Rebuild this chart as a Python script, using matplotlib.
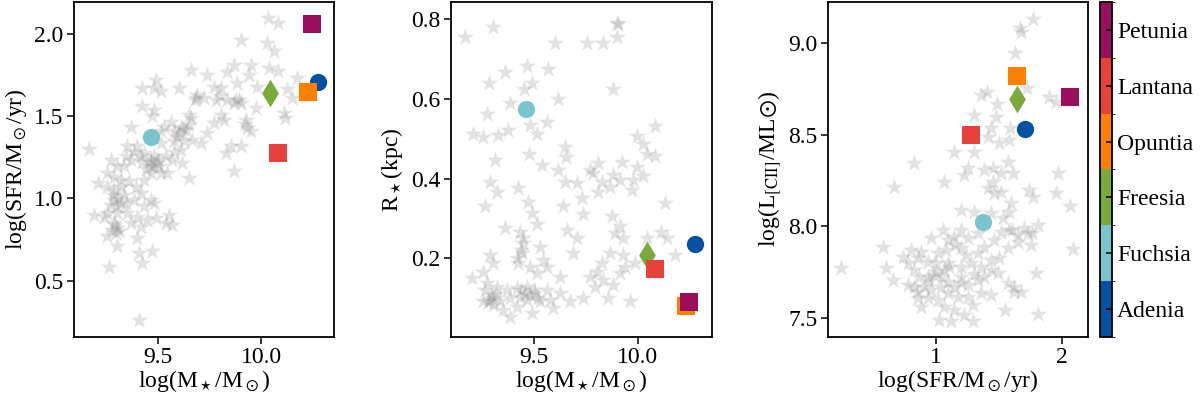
import matplotlib
matplotlib.use("Agg")
import matplotlib.pyplot as plt
import numpy as np
from matplotlib.colors import ListedColormap, BoundaryNorm
from matplotlib.cm import ScalarMappable

plt.rcParams['font.family'] = ['Liberation Serif', 'DejaVu Serif']
plt.rcParams['mathtext.fontset'] = 'stix'
plt.rcParams['font.size'] = 17

# highlighted galaxies (bottom to top of the colour bar)
names = ['Adenia', 'Fuchsia', 'Freesia', 'Opuntia', 'Lantana', 'Petunia']
colors = ['#0451a3', '#7ac5cd', '#7aab3a', '#ff8000', '#e8403a', '#990f5d']
markers = ['o', 'o', 'd', 's', 's', 's']
gal_mstar = [10.275, 9.465, 10.044, 10.230, 10.081, 10.248]
gal_sfr = [1.708, 1.374, 1.643, 1.647, 1.277, 2.063]
gal_rstar = [0.235, 0.574, 0.208, 0.080, 0.173, 0.091]
gal_lcii = [8.532, 8.022, 8.694, 8.821, 8.497, 8.708]

# background sample, panel 1: stellar mass vs SFR
bg1_mstar = [10.036, 10.083, 9.901, 10.031, 10.063, 10.039, 10.083, 10.176, 10.128, 10.152,
             10.112, 10.115, 9.979, 9.974, 9.659, 9.739, 9.837, 9.869, 9.950, 9.942,
             9.885, 9.804, 9.772, 9.691, 9.683, 9.723, 9.602, 9.489, 9.481, 9.424,
             9.516, 9.893, 9.901, 9.837, 9.804, 9.820, 9.772, 9.739, 9.707, 9.626,
             9.659, 9.650, 9.610, 9.578, 9.561, 9.529, 9.513, 9.481, 9.472, 9.424,
             9.367, 9.926, 9.934, 9.950, 9.853, 9.901, 9.828, 9.869, 9.650, 9.618,
             9.570, 9.537, 9.497, 9.464, 9.416, 9.383, 9.351, 9.400, 9.432, 9.513,
             9.165, 9.206, 9.254, 9.270, 9.303, 9.335, 9.286, 9.254, 9.319, 9.359,
             9.392, 9.432, 9.464, 9.513, 9.416, 9.464, 9.481, 9.432, 9.383, 9.335,
             9.286, 9.270, 9.254, 9.189, 9.238, 9.303, 9.351, 9.400, 9.448, 9.489,
             9.416, 9.367, 9.286, 9.278, 9.294, 9.254, 9.303, 9.400, 9.408, 9.424,
             9.472, 9.262, 9.553, 9.570, 9.537, 9.408, 9.286, 9.319, 9.343, 9.303,
             9.481, 9.505, 9.464, 9.367, 9.343, 9.545, 9.610, 9.578, 9.594, 9.634,
             9.650, 9.667, 9.578, 9.30, 9.29, 9.31, 9.30, 9.32, 9.28, 9.46,
             9.48, 9.50, 9.44, 9.42, 9.60, 9.62, 9.78, 9.80, 9.87, 9.88,
             9.92, 9.68]
bg1_sfr = [2.095, 2.069, 1.964, 1.947, 1.899, 1.791, 1.775, 1.731, 1.664, 1.609,
           1.518, 1.488, 1.680, 1.548, 1.781, 1.751, 1.771, 1.812, 1.812, 1.751,
           1.700, 1.670, 1.680, 1.629, 1.609, 1.609, 1.670, 1.721, 1.670, 1.670,
           1.650, 1.599, 1.579, 1.599, 1.508, 1.478, 1.457, 1.396, 1.336, 1.346,
           1.488, 1.508, 1.437, 1.407, 1.467, 1.437, 1.407, 1.538, 1.498, 1.559,
           1.437, 1.478, 1.427, 1.407, 1.316, 1.316, 1.275, 1.164, 1.123, 1.214,
           1.235, 1.255, 1.214, 1.194, 1.255, 1.285, 1.316, 1.316, 1.275, 1.336,
           1.299, 1.093, 1.154, 1.235, 1.194, 1.194, 1.133, 1.072, 1.113, 1.103,
           1.072, 1.113, 1.154, 1.154, 1.032, 0.992, 0.971, 0.951, 0.992, 1.022,
           0.992, 0.961, 0.910, 0.900, 0.890, 0.910, 0.910, 0.890, 0.870, 0.880,
           0.829, 0.850, 0.850, 0.809, 0.789, 0.769, 0.708, 0.759, 0.667, 0.607,
           0.678, 0.586, 0.900, 0.840, 0.850, 0.262, 1.052, 1.072, 0.971, 0.951,
           1.255, 1.194, 1.235, 1.235, 1.255, 1.154, 1.295, 1.346, 1.376, 1.417,
           1.447, 1.356, 1.285, 0.82, 0.84, 0.80, 1.00, 0.97, 1.02, 1.22,
           1.20, 1.24, 1.18, 1.22, 1.40, 1.42, 1.60, 1.62, 1.58, 1.60,
           1.45, 1.60]

# panel 2: stellar mass vs stellar radius
bg2_mstar = [9.170, 9.306, 9.899, 9.907, 9.899, 9.755, 9.835, 9.603, 9.466, 9.362,
             9.571, 9.287, 9.490, 9.454, 9.883, 9.619, 9.386, 9.274, 9.563, 9.482,
             9.210, 9.258, 9.330, 9.378, 9.514, 10.083, 9.995, 10.027, 10.043, 10.083,
             9.995, 10.024, 9.651, 9.655, 9.479, 9.314, 9.538, 9.619, 9.771, 9.811,
             9.787, 9.883, 9.915, 9.827, 9.867, 9.811, 9.923, 9.971, 9.979, 9.707,
             9.651, 9.290, 9.322, 9.426, 9.266, 9.474, 9.490, 9.643, 9.731, 9.739,
             9.514, 9.362, 9.434, 9.659, 9.707, 9.875, 9.915, 9.891, 9.931, 10.131,
             10.111, 10.143, 10.043, 10.179, 9.931, 9.867, 9.691, 9.827, 9.290, 9.306,
             9.450, 9.442, 9.530, 9.546, 9.514, 9.563, 9.482, 9.426, 9.258, 9.202,
             9.274, 9.322, 9.370, 9.418, 9.466, 9.506, 9.563, 9.627, 9.579, 9.290,
             9.258, 9.306, 9.338, 9.386, 9.434, 9.482, 9.418, 9.466, 9.386, 9.490,
             9.354, 9.595, 9.675, 9.739, 9.771, 9.803, 9.835, 9.795, 9.883, 9.859,
             9.915, 9.939, 9.963, 9.987, 9.627, 9.530, 9.266, 9.298, 9.30, 9.32,
             9.28, 9.44, 9.46, 9.42, 9.44, 9.45, 9.50, 9.52]
bg2_rstar = [0.756, 0.779, 0.791, 0.787, 0.754, 0.741, 0.739, 0.739, 0.682, 0.668,
             0.674, 0.639, 0.639, 0.624, 0.624, 0.600, 0.589, 0.562, 0.543, 0.534,
             0.513, 0.505, 0.509, 0.522, 0.513, 0.532, 0.507, 0.488, 0.463, 0.457,
             0.430, 0.407, 0.480, 0.455, 0.463, 0.447, 0.434, 0.422, 0.422, 0.438,
             0.413, 0.409, 0.396, 0.392, 0.380, 0.367, 0.442, 0.371, 0.396, 0.390,
             0.392, 0.392, 0.367, 0.376, 0.331, 0.342, 0.315, 0.331, 0.351, 0.311,
             0.286, 0.275, 0.267, 0.271, 0.250, 0.306, 0.280, 0.263, 0.250, 0.338,
             0.267, 0.250, 0.250, 0.209, 0.209, 0.213, 0.213, 0.188, 0.209, 0.188,
             0.238, 0.213, 0.229, 0.196, 0.163, 0.179, 0.179, 0.188, 0.167, 0.150,
             0.138, 0.129, 0.121, 0.125, 0.129, 0.112, 0.121, 0.154, 0.096, 0.096,
             0.092, 0.083, 0.092, 0.100, 0.104, 0.108, 0.079, 0.096, 0.054, 0.062,
             0.071, 0.075, 0.092, 0.100, 0.154, 0.167, 0.146, 0.129, 0.133, 0.100,
             0.163, 0.179, 0.092, 0.188, 0.112, 0.092, 0.121, 0.108, 0.100, 0.110,
             0.090, 0.120, 0.110, 0.200, 0.220, 0.250, 0.120, 0.100]

# panel 3: SFR vs [CII] luminosity
bg3_sfr = [1.768, 1.670, 1.675, 1.631, 1.720, 1.359, 1.406, 1.485, 1.900, 1.953,
           1.306, 1.478, 1.591, 1.438, 1.412, 1.504, 1.583, 1.148, 1.306, 0.831,
           1.570, 1.253, 1.385, 1.451, 1.517, 1.609, 1.227, 1.063, 0.673, 1.451,
           1.412, 1.464, 1.517, 1.741, 1.768, 1.966, 1.953, 2.066, 1.596, 1.583,
           1.201, 1.306, 1.438, 1.530, 1.702, 1.807, 1.760, 1.649, 1.649, 1.583,
           1.517, 1.464, 1.332, 1.253, 1.201, 1.148, 1.095, 0.963, 1.055, 0.580,
           0.805, 0.884, 0.937, 1.016, 1.082, 1.201, 1.240, 1.332, 1.385, 1.438,
           1.504, 1.570, 1.755, 1.728, 2.084, 0.251, 0.607, 0.660, 0.778, 0.831,
           0.871, 0.937, 0.989, 1.069, 1.108, 1.201, 1.280, 1.359, 1.438, 1.491,
           1.570, 1.623, 1.675, 1.794, 0.778, 0.831, 0.910, 0.963, 1.042, 1.095,
           1.148, 1.201, 1.253, 1.332, 1.385, 1.359, 1.253, 1.174, 1.095, 1.016,
           0.937, 0.858, 0.884, 1.069, 1.148, 1.293, 1.227, 1.029, 1.121, 1.293,
           1.438, 1.549, 1.807, 0.858, 0.739, 1.003, 1.00, 1.05, 0.95, 1.10,
           1.20, 1.30, 1.15, 1.60, 1.62, 0.85]
bg3_lcii = [9.131, 9.082, 9.064, 8.945, 8.754, 8.718, 8.736, 8.668, 8.709, 8.681,
            8.608, 8.599, 8.536, 8.536, 8.490, 8.454, 8.472, 8.408, 8.408, 8.348,
            8.353, 8.317, 8.308, 8.317, 8.290, 8.290, 8.281, 8.244, 8.213, 8.244,
            8.208, 8.180, 8.189, 8.199, 8.162, 8.290, 8.180, 8.111, 8.126, 8.080,
            8.089, 8.080, 8.071, 8.044, 7.989, 8.007, 7.962, 7.953, 7.916, 7.980,
            7.971, 7.925, 7.962, 7.934, 7.980, 7.943, 7.925, 7.934, 7.980, 7.885,
            7.871, 7.862, 7.807, 7.852, 7.871, 7.880, 7.843, 7.852, 7.889, 7.816,
            7.825, 7.880, 7.898, 7.962, 7.874, 7.770, 7.770, 7.707, 7.798, 7.761,
            7.725, 7.725, 7.734, 7.761, 7.780, 7.780, 7.798, 7.780, 7.761, 7.743,
            7.689, 7.670, 7.643, 7.743, 7.679, 7.670, 7.670, 7.652, 7.670, 7.698,
            7.670, 7.689, 7.679, 7.707, 7.725, 7.634, 7.616, 7.616, 7.634, 7.597,
            7.607, 7.607, 7.561, 7.561, 7.543, 7.570, 7.516, 7.488, 7.484, 7.484,
            7.625, 7.543, 7.521, 7.825, 7.834, 7.798, 7.750, 7.720, 7.700, 7.800,
            7.720, 7.740, 7.900, 7.980, 7.640, 7.640]

fig = plt.figure(figsize=(12, 3.95), dpi=100)
ax1 = fig.add_axes([0.0617, 0.147, 0.2167, 0.848])
ax2 = fig.add_axes([0.3756, 0.147, 0.2175, 0.848])
ax3 = fig.add_axes([0.690, 0.147, 0.2164, 0.848])
cax = fig.add_axes([0.9167, 0.147, 0.0103, 0.848])

panels = [
    (ax1, bg1_mstar, bg1_sfr, gal_mstar, gal_sfr),
    (ax2, bg2_mstar, bg2_rstar, gal_mstar, gal_rstar),
    (ax3, bg3_sfr, bg3_lcii, gal_sfr, gal_lcii),
]
for ax, bx, by, gx, gy in panels:
    ax.scatter(bx, by, marker='*', s=170, color='#8c8c8c', alpha=0.25, linewidths=0, zorder=1)
    for i in range(len(names)):
        s = 200 if markers[i] == 'd' else 155
        ax.scatter(gx[i], gy[i], marker=markers[i], s=s, color=colors[i], linewidths=0, zorder=3)
    for sp in ax.spines.values():
        sp.set_linewidth(1.3)
    ax.tick_params(direction='out', length=5, width=1.1, labelsize=17, pad=2.5)

ax1.set_xlim(9.092, 10.355)
ax1.set_ylim(0.158, 2.194)
ax1.set_xticks([9.5, 10.0])
ax1.set_yticks([0.5, 1.0, 1.5, 2.0])
ax1.set_xlabel(r'log(M$_\star$/M$_\odot$)', labelpad=0)
ax1.set_ylabel(r'log(SFR/M$_\odot$/yr)', labelpad=4)

ax2.set_xlim(9.101, 10.356)
ax2.set_ylim(0.003, 0.843)
ax2.set_xticks([9.5, 10.0])
ax2.set_yticks([0.2, 0.4, 0.6, 0.8])
ax2.set_xlabel(r'log(M$_\star$/M$_\odot$)', labelpad=0)
ax2.set_ylabel(r'R$_\star$(kpc)', labelpad=4)

ax3.set_xlim(0.147, 2.203)
ax3.set_ylim(7.395, 9.226)
ax3.set_xticks([1, 2])
ax3.set_yticks([7.5, 8.0, 8.5, 9.0])
ax3.set_xlabel(r'log(SFR/M$_\odot$/yr)', labelpad=0)
ax3.set_ylabel(r'log(L$_{\rm [CII]}$/ML$\odot$)', labelpad=4)

cmap = ListedColormap(colors)
norm = BoundaryNorm(np.arange(len(names) + 1), cmap.N)
cb = fig.colorbar(ScalarMappable(norm=norm, cmap=cmap), cax=cax)
cb.set_ticks(np.arange(len(names)) + 0.5)
cb.set_ticklabels(names)
cb.ax.tick_params(direction='in', length=4, width=1.1, labelsize=17)
cb.outline.set_linewidth(1.3)

fig.savefig('out.png', dpi=100)
